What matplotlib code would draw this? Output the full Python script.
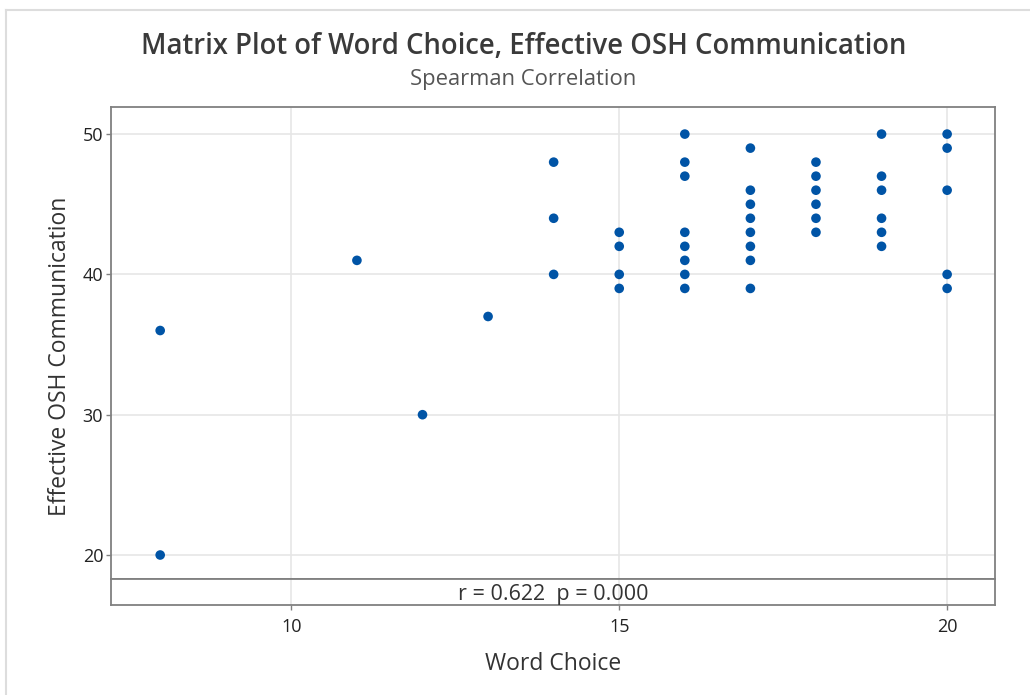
import matplotlib.pyplot as plt
from matplotlib.lines import Line2D

plt.rcParams['font.family'] = ['Open Sans', 'DejaVu Sans']

# Word Choice score vs Effective OSH Communication score
word_choice = [8, 8,
               11, 12, 13,
               14, 14, 14,
               15, 15, 15, 15,
               16, 16, 16, 16, 16, 16, 16, 16,
               17, 17, 17, 17, 17, 17, 17, 17,
               18, 18, 18, 18, 18, 18,
               19, 19, 19, 19, 19, 19,
               20, 20, 20, 20, 20]
osh_comm = [36, 20,
            41, 30, 37,
            48, 44, 40,
            43, 42, 40, 39,
            50, 48, 47, 43, 42, 41, 40, 39,
            49, 46, 45, 44, 43, 42, 41, 39,
            48, 47, 46, 45, 44, 43,
            50, 47, 46, 44, 43, 42,
            50, 49, 46, 40, 39]

x_ticks = [10, 15, 20]
y_ticks = [20, 30, 40, 50]
r_value = 0.622
p_value = 0.000

W, H = 1030, 695
TEXT = '#333333'
EDGE = '#808080'
GRID = '#e6e6e6'
BLUE = '#0054a6'

fig = plt.figure(figsize=(W / 100, H / 100), dpi=100)

def box(left, top, right, bottom):
    return [left / W, 1 - bottom / H, (right - left) / W, (bottom - top) / H]

def fx(px):
    return px / W

def fy(px):
    return 1 - px / H

ax = fig.add_axes(box(111, 107, 995, 579))
strip = fig.add_axes(box(111, 579, 995, 605), sharex=ax)

ax.scatter(word_choice, osh_comm, s=48, color=BLUE, edgecolors='none', zorder=3)
ax.set_xlim(7.25, 20.73)
ax.set_ylim(18.29, 51.93)
ax.set_yticks(y_ticks)
ax.set_xticks(x_ticks)
ax.tick_params(axis='x', bottom=False, labelbottom=False)
ax.tick_params(axis='y', length=3.6, width=1, color=EDGE, labelsize=13,
               labelcolor='#222222', pad=2)
ax.grid(True, color=GRID, linewidth=1.2, zorder=0)

strip.set_ylim(0, 1)
strip.set_yticks([])
strip.grid(True, axis='x', color=GRID, linewidth=1.2, zorder=0)
strip.tick_params(axis='x', length=3.6, width=1, color=EDGE, labelsize=13,
                  labelcolor='#222222', pad=6)
strip.text(0.5, 0.42, f'r = {r_value:.3f}  p = {p_value:.3f}', transform=strip.transAxes,
           ha='center', va='center', fontsize=15.5, color=TEXT)

for a in (ax, strip):
    for sp in a.spines.values():
        sp.set_color(EDGE)
        sp.set_linewidth(1.3)

# axis titles span the scatter panel and the correlation strip together
fig.text(fx(60), fy(356), 'Effective OSH Communication', rotation=90,
         ha='center', va='center', fontsize=16.5, color=TEXT)
fig.text(fx(553), fy(664), 'Word Choice',
         ha='center', va='center', fontsize=16.5, color=TEXT)

fig.text(fx(524), fy(47), 'Matrix Plot of Word Choice, Effective OSH Communication',
         ha='center', va='center', fontsize=19.8, fontweight='semibold', color='#3a3a3a')
fig.text(fx(523), fy(79), 'Spearman Correlation',
         ha='center', va='center', fontsize=15.8, color='#555555')

# light frame around the graph window
fig.add_artist(Line2D([fx(6), 1], [fy(10), fy(10)], color='#dddddd', lw=1.5))
fig.add_artist(Line2D([fx(6), fx(6)], [0, fy(10)], color='#dddddd', lw=1.5))

fig.savefig('out.png', dpi=100)
